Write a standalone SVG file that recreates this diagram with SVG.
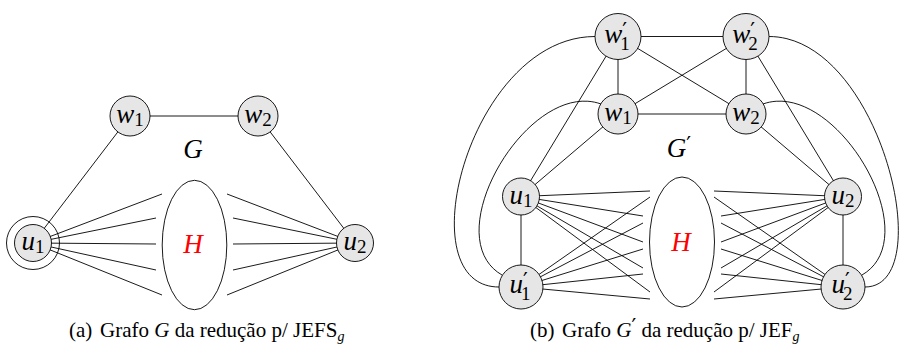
<svg xmlns="http://www.w3.org/2000/svg" width="901" height="347" viewBox="0 0 901 347">
<style>
.e{stroke:#000;stroke-width:0.9;fill:none}
.n{fill:#e6e6e6;stroke:#000;stroke-width:0.9}
.o{fill:none;stroke:#000;stroke-width:0.9}
.h{fill:#fff;stroke:#000;stroke-width:0.9}
.t{font-family:"Liberation Serif","DejaVu Serif",serif;font-size:27px;font-style:italic;fill:#000}
.s{font-style:normal;font-size:19px}
.p{font-family:"DejaVu Sans",sans-serif;font-style:normal;font-size:21px}
.c{font-family:"Liberation Serif","DejaVu Serif",serif;font-size:21px;fill:#000}
</style>
<rect width="901" height="347" fill="#fff"/>
<g id="edges">
  <line class="e" x1="130" y1="116" x2="258" y2="116"/>
  <line class="e" x1="130" y1="116" x2="33" y2="243"/>
  <line class="e" x1="258" y1="116" x2="355" y2="243"/>
  <path class="e" d="M33,243L162,194M33,243L156,218M33,243L156,244M33,243L156,270M33,243L162,295"/>
  <path class="e" d="M355,243L227,194M355,243L233,218M355,243L233,244M355,243L233,270M355,243L227,295"/>
  <path class="e" d="M618,36.5H746M618,114H746M618,36.5V114M746,36.5V114M618,36.5L746,114M746,36.5L618,114"/>
  <path class="e" d="M618,36.5L521,196.5M618,114L521,196.5M746,36.5L843,196.5M746,114L843,196.5M521,196.5V287M843,196.5V287"/>
  <path class="e" d="M595,36.5C470,36.5 405,287 499,287"/>
  <path class="e" d="M601,104C529,78 435,236.5 502,275"/>
  <path class="e" d="M769,36.5C880,36.5 940,287 865,287"/>
  <path class="e" d="M763,104C835,78 929,236.5 862,275"/>
  <path class="e" d="M521,196.5L650,191M521,196.5L643,216M521,196.5L643,242M521,196.5L643,268M521,196.5L650,292"/>
  <path class="e" d="M521,287L650,197M521,287L643,223M521,287L643,249M521,287L643,274M521,287L650,299"/>
  <path class="e" d="M843,196.5L714,191M843,196.5L721,216M843,196.5L721,242M843,196.5L721,268M843,196.5L714,292"/>
  <path class="e" d="M843,287L714,197M843,287L721,223M843,287L721,249M843,287L721,274M843,287L714,299"/>
</g>
<g id="a-w1"><circle class="n" cx="130" cy="116" r="20"/><text class="t" x="130" y="123" text-anchor="middle">w<tspan class="s" dy="3">1</tspan></text></g>
<g id="a-w2"><circle class="n" cx="258" cy="116" r="20"/><text class="t" x="258" y="123" text-anchor="middle">w<tspan class="s" dy="3">2</tspan></text></g>
<g id="a-u1"><circle class="o" cx="33" cy="243" r="26.5"/><circle class="n" cx="33" cy="243" r="18.5"/><text class="t" x="33" y="250" text-anchor="middle">u<tspan class="s" dy="3">1</tspan></text></g>
<g id="a-u2"><circle class="n" cx="355" cy="243" r="18.5"/><text class="t" x="355" y="250" text-anchor="middle">u<tspan class="s" dy="3">2</tspan></text></g>
<g id="a-H"><ellipse class="h" cx="194.5" cy="245" rx="32.3" ry="64.7"/><text class="t" x="193" y="253" text-anchor="middle" style="fill:#f00">H</text></g>
<text class="t" x="193" y="158" text-anchor="middle">G</text>

<g id="b-w1p"><circle class="n" cx="618" cy="36.5" r="23"/><text class="t" x="617" y="43" text-anchor="middle">w<tspan class="p" dy="-5">′</tspan><tspan class="s" dx="-7" dy="12">1</tspan></text></g>
<g id="b-w2p"><circle class="n" cx="746" cy="36.5" r="23"/><text class="t" x="745" y="43" text-anchor="middle">w<tspan class="p" dy="-5">′</tspan><tspan class="s" dx="-7" dy="12">2</tspan></text></g>
<g id="b-w1"><circle class="n" cx="618" cy="114" r="20"/><text class="t" x="618" y="121" text-anchor="middle">w<tspan class="s" dy="3">1</tspan></text></g>
<g id="b-w2"><circle class="n" cx="746" cy="114" r="20"/><text class="t" x="746" y="121" text-anchor="middle">w<tspan class="s" dy="3">2</tspan></text></g>
<g id="b-u1"><circle class="n" cx="521" cy="196.5" r="18.5"/><text class="t" x="521" y="203.5" text-anchor="middle">u<tspan class="s" dy="3">1</tspan></text></g>
<g id="b-u2"><circle class="n" cx="843" cy="196.5" r="18.5"/><text class="t" x="843" y="203.5" text-anchor="middle">u<tspan class="s" dy="3">2</tspan></text></g>
<g id="b-u1p"><circle class="n" cx="521" cy="287" r="22"/><text class="t" x="520" y="293" text-anchor="middle">u<tspan class="p" dy="-5">′</tspan><tspan class="s" dx="-7" dy="12">1</tspan></text></g>
<g id="b-u2p"><circle class="n" cx="843" cy="287" r="22"/><text class="t" x="842" y="293" text-anchor="middle">u<tspan class="p" dy="-5">′</tspan><tspan class="s" dx="-7" dy="12">2</tspan></text></g>
<g id="b-H"><ellipse class="h" cx="682" cy="242" rx="32.5" ry="65"/><text class="t" x="681" y="251" text-anchor="middle" style="fill:#f00">H</text></g>
<text class="t" x="679" y="157" text-anchor="middle">G<tspan class="p" dy="-5">′</tspan></text>

<text class="c" x="69" y="337">(a)<tspan x="100">Grafo </tspan><tspan font-style="italic">G</tspan> da redução p/ JEFS<tspan font-size="14" font-style="italic" dy="4">g</tspan></text>
<text class="c" x="530" y="337">(b)<tspan x="562">Grafo </tspan><tspan font-style="italic">G</tspan><tspan class="p" font-size="17" dy="-3">′</tspan><tspan dy="3"> da redução p/ JEF</tspan><tspan font-size="14" font-style="italic" dy="4">g</tspan></text>
</svg>
